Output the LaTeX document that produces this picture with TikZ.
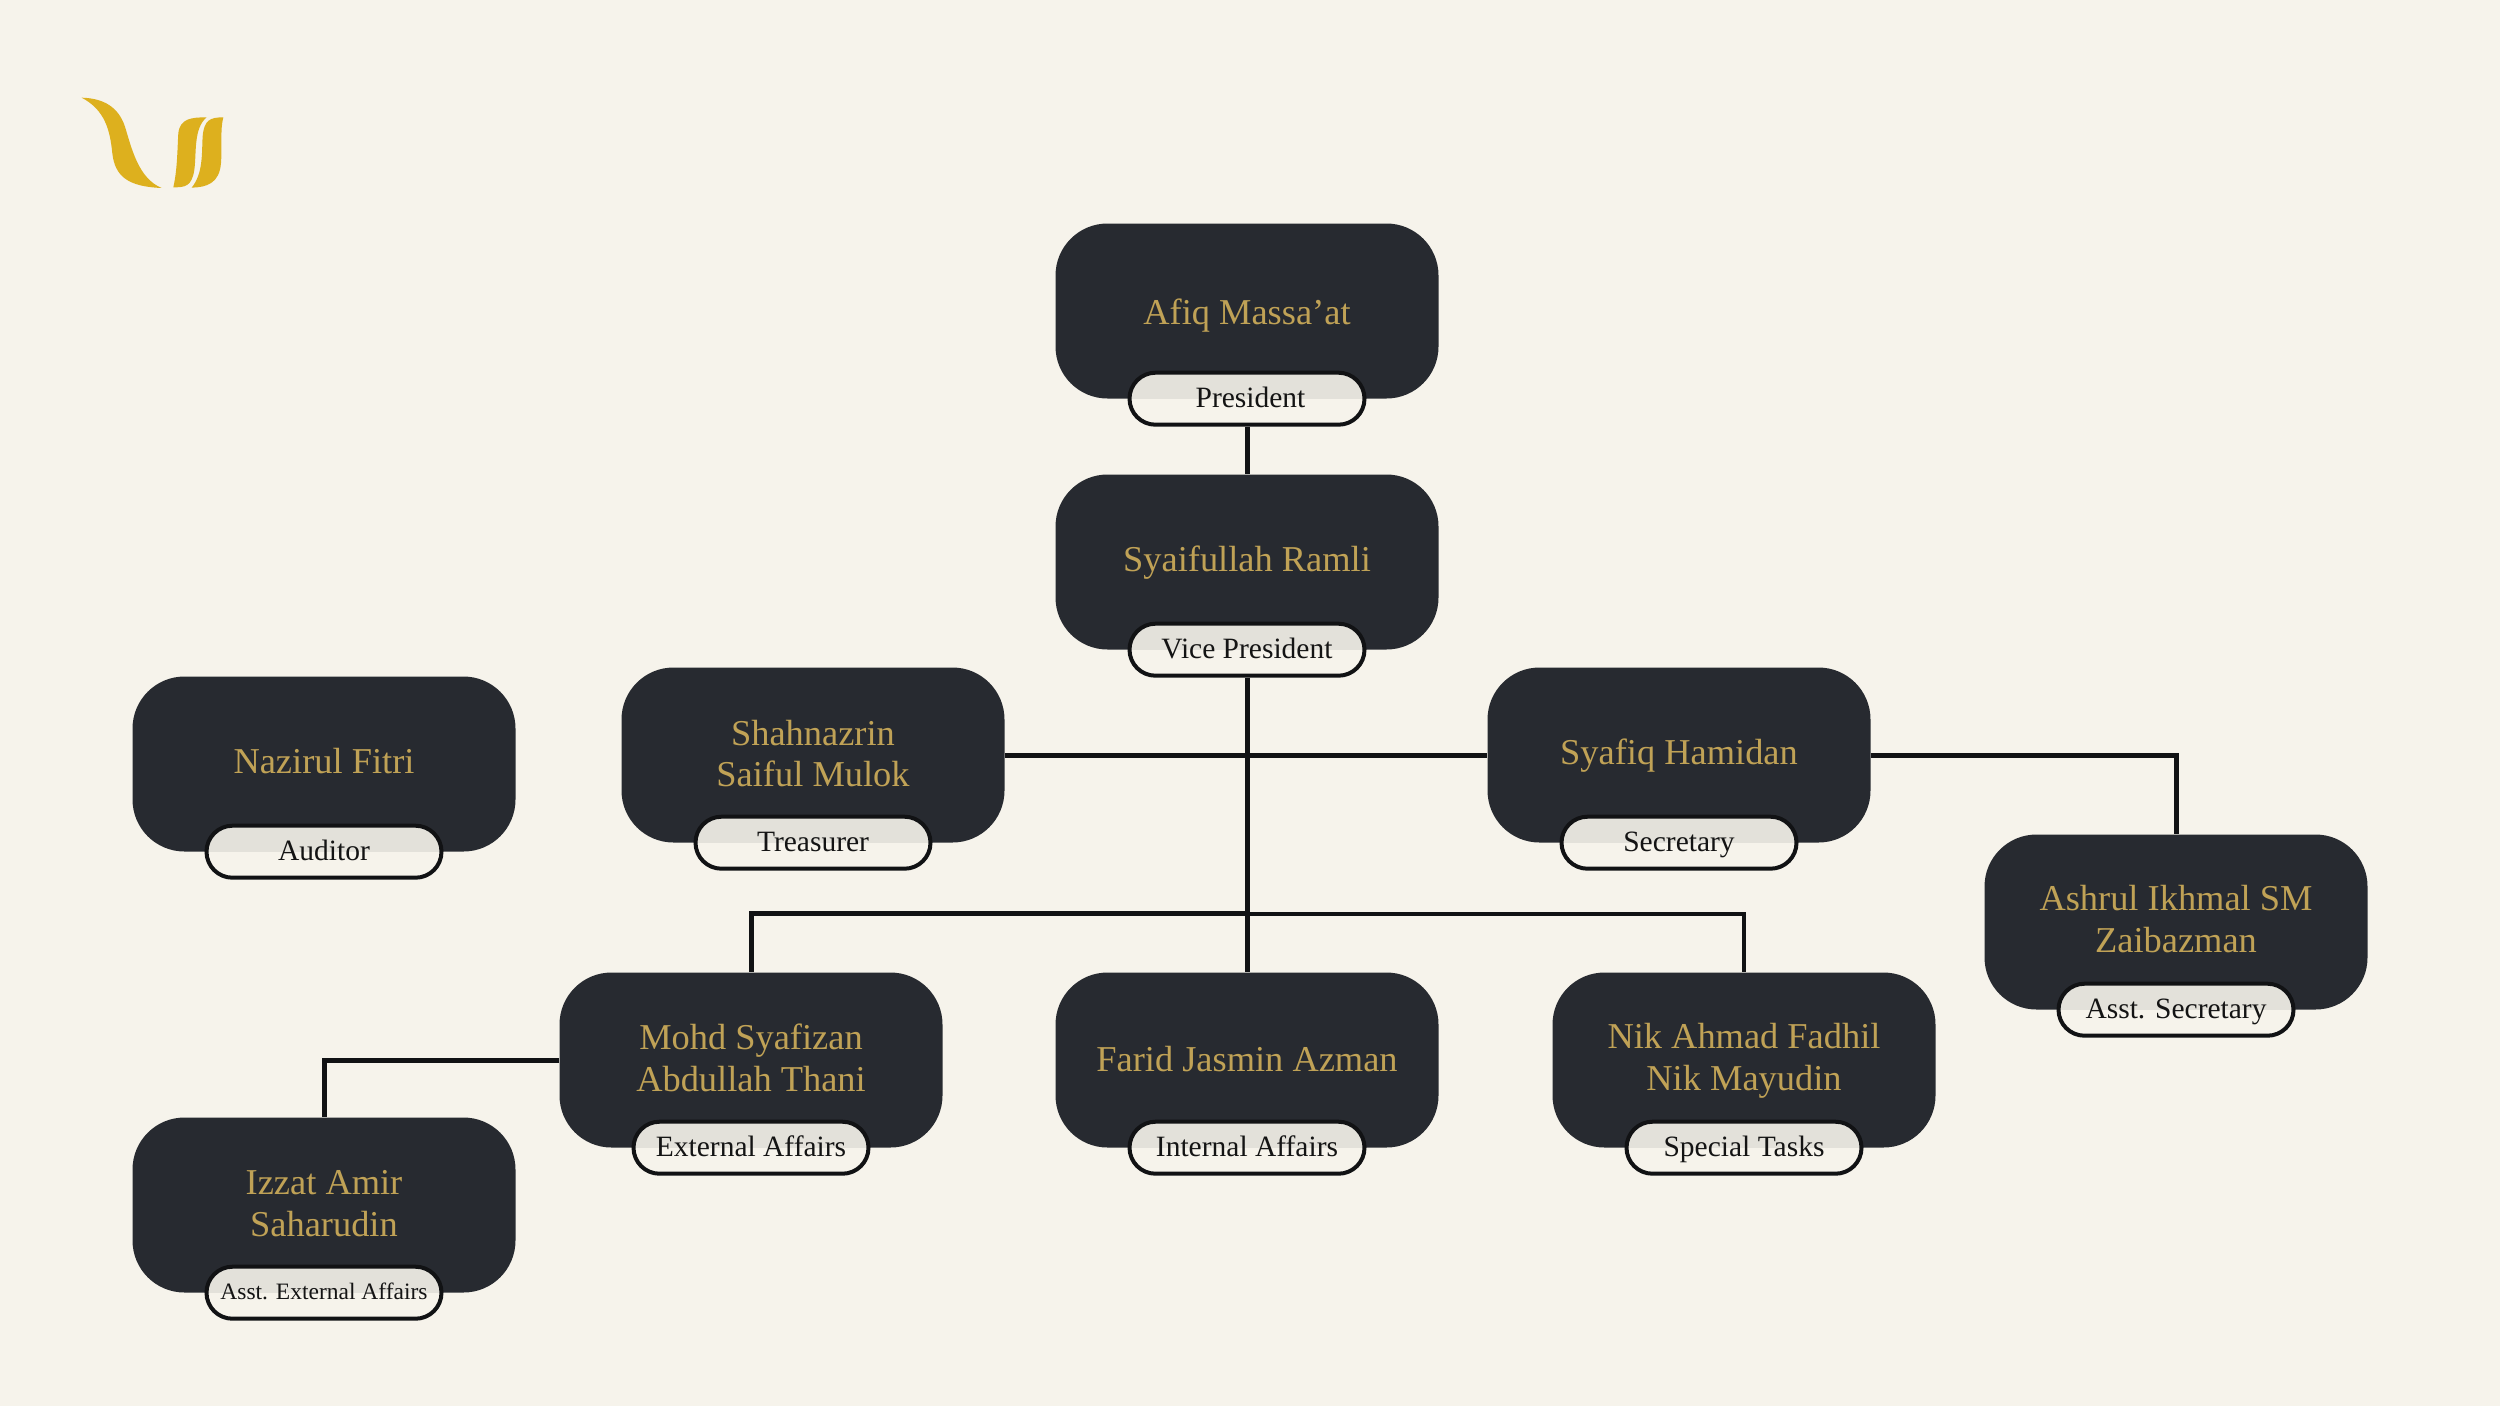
\documentclass[tikz,border=0pt]{standalone}
\usepackage{fontspec}
\setmainfont{Liberation Serif}
\usetikzlibrary{backgrounds}
\definecolor{bgc}{HTML}{F6F3EB}
\definecolor{boxc}{HTML}{272A30}
\definecolor{goldt}{HTML}{C0A256}
\definecolor{lnc}{HTML}{111214}
\definecolor{pilltop}{HTML}{E3E1DA}
\definecolor{logoc}{HTML}{DDB01E}
\tikzset{
  person/.style={fill=boxc,draw=none,rounded corners=52pt,minimum width=383pt,minimum height=175pt,inner sep=0pt},
  nametext/.style={inner sep=0pt,text=goldt,align=center,font=\fontsize{36.4}{41.5}\selectfont},
  rolepill/.style={draw=lnc,line width=4pt,rounded corners=26pt,minimum width=235pt,minimum height=52pt,inner sep=0pt,
    fill=bgc,text=black!92,font=\fontsize{29.5}{32}\selectfont,text height=22pt,text depth=4pt,
    path picture={\fill[pilltop,sharp corners] (path picture bounding box.north west) rectangle (path picture bounding box.east);}},
  smallpill/.style={rolepill,font=\fontsize{23.5}{28}\selectfont,text height=18pt,text depth=4pt},
  conn/.style={draw=lnc,line width=5pt},
  logopart/.style={fill=logoc,draw=none}
}
\begin{document}
\begin{tikzpicture}[x=1pt,y=-1pt]
\useasboundingbox (0,0) rectangle (2500,1406);
% boxes
\node[person] (pres) at (1247,311) {};
\node[person] (vp) at (1247,562) {};
\node[person] (aud) at (324,764) {};
\node[person] (tre) at (813,755) {};
\node[person] (sec) at (1679,755) {};
\node[person] (asec) at (2176,922) {};
\node[person] (ext) at (751,1060) {};
\node[person] (int) at (1247,1060) {};
\node[person] (spe) at (1744,1060) {};
\node[person] (aext) at (324,1205) {};
% names
\node[nametext] (presN) at (1247,316) {Afiq Massa’at};
\node[nametext] (vpN) at (1247,563) {Syaifullah Ramli};
\node[nametext] (audN) at (324,761) {Nazirul Fitri};
\node[nametext] (treN) at (813,753.5) {Shahnazrin\\Saiful Mulok};
\node[nametext] (secN) at (1679,756) {Syafiq Hamidan};
\node[nametext] (asecN) at (2176,919) {Ashrul Ikhmal SM\\Zaibazman};
\node[nametext] (extN) at (751,1058) {Mohd Syafizan\\Abdullah Thani};
\node[nametext] (intN) at (1247,1059) {Farid Jasmin Azman};
\node[nametext] (speN) at (1744,1061) {Nik Ahmad Fadhil\\Nik Mayudin};
\node[nametext] (aextN) at (324,1203.5) {Izzat Amir\\Saharudin};
% role pills
\node[rolepill] (presR) at (pres.south) {\kern7pt President};
\node[rolepill] (vpR) at (vp.south) {Vice President};
\node[rolepill] (audR) at (aud.south) {Auditor};
\node[rolepill] (treR) at (tre.south) {Treasurer};
\node[rolepill] (secR) at (sec.south) {Secretary};
\node[rolepill] (asecR) at (asec.south) {Asst. Secretary};
\node[rolepill] (extR) at (ext.south) {External Affairs};
\node[rolepill] (intR) at (int.south) {Internal Affairs};
\node[rolepill] (speR) at (spe.south) {Special Tasks};
\node[smallpill] (aextR) at (aext.south) {Asst. External Affairs};
% connectors and page colour
\coordinate (busL) at (1247,913);
\coordinate (busR) at (1247,914);
\begin{pgfonlayer}{background}
  \fill[bgc] (0,0) rectangle (2500,1406);
  \draw[conn] (presR.south) -- (vp.north);
  \draw[conn] (vpR.south) -- (int.north);
  \draw[conn] (tre.east) -- (sec.west);
  \draw[conn] (sec.east) -| (asec.north);
  \draw[conn] (busL) -| (ext.north);
  \draw[conn,line width=4.5pt] (busR) -| (spe.north);
  \draw[conn] (ext.west) -| (aext.north);
\end{pgfonlayer}
% logo
\begin{scope}[shift={(60,70)},x=0.3333pt,y=-0.3333pt]
\fill[logopart] (65,83) .. controls (130,85) and (175,110) .. (195,170)
  .. controls (215,235) and (235,325) .. (305,354)
  .. controls (205,350) and (165,320) .. (157,250)
  .. controls (150,180) and (135,120) .. (65,83) -- cycle;
\fill[logopart] (440,142) .. controls (395,142) and (360,145) .. (355,190)
  .. controls (352,240) and (352,300) .. (340,352)
  .. controls (375,352) and (395,350) .. (403,300)
  .. controls (410,250) and (400,175) .. (440,142) -- cycle;
\fill[logopart] (490,142) .. controls (450,142) and (432,150) .. (428,200)
  .. controls (425,250) and (430,310) .. (395,353)
  .. controls (440,352) and (478,340) .. (483,280)
  .. controls (487,230) and (480,180) .. (490,142) -- cycle;
\end{scope}
\end{tikzpicture}
\end{document}
